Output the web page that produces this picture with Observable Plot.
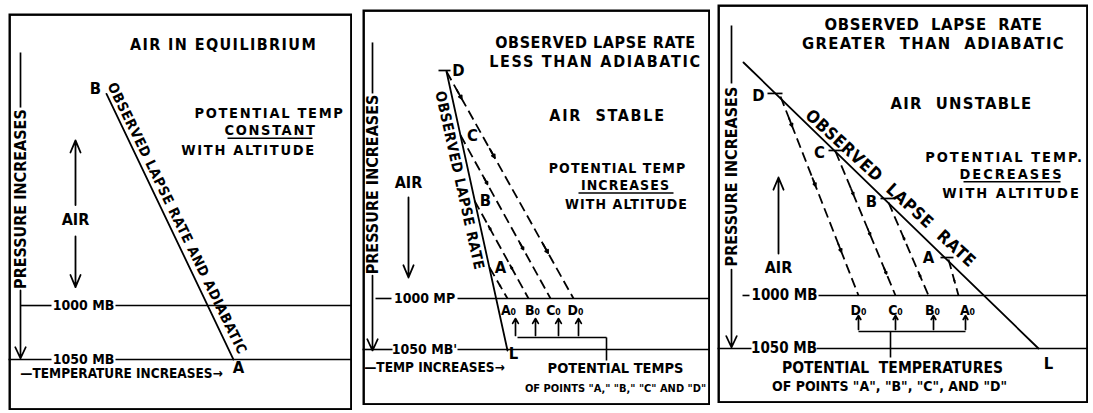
<!DOCTYPE html>
<html><head><meta charset="utf-8">
<script src="https://cdn.jsdelivr.net/npm/d3@7"></script>
<script src="https://cdn.jsdelivr.net/npm/@observablehq/plot@0.6"></script>
<style>
body{margin:0;background:#fff}
#chart{position:relative;width:1093px;height:413px;overflow:hidden;background:#fff}
#chart svg{position:absolute}
</style>
</head><body><div id="chart"></div>
<script>
// ================= DATA =================
// t = temperature (arbitrary units), p = pressure (mb)

// ---- Panel 1: air in equilibrium ----
const eqIsobars = [{p:1000, t1:12, t2:43}, {p:1000, t1:107, t2:344}, {p:1050, t1:0, t2:43}, {p:1050, t1:107, t2:344}];
const eqPressureLine = [{t:12, p1:765.7, p2:816.7}];
const eqPressureArrow = [{t:12, p1:986, p2:1049}];
const eqPressureLabel = [{label:"PRESSURE INCREASES", t:12, p:901.4}];
const eqIsobarLabels = [{label:"1000 MB", t:75, p:1000}, {label:"1050 MB", t:75, p:1050}];
const eqTempLabel = [{label:"—TEMPERATURE INCREASES→", t:113, p:1063}];
const eqLapse = [{t:98, p:804}, {t:225, p:1050}];
const eqLapseLabel = [{label:"OBSERVED LAPSE RATE AND ADIABATIC", t:168.5, p:919.4}];
const eqPointLabels = [{label:"B", t:87, p:799}, {label:"A", t:230, p:1058}];
const eqTicks = [];
const eqParcels = [];
const eqPotLabels = [];
const eqPotArrows = [];
const eqBracket = [];
const eqCaption1 = [];
const eqCaption2 = [];
const eqAirLabel = [{label:"AIR", t:67, p:921}];
const eqAirArrows = [{t:67, p1:907, p2:847}, {t:67, p1:936, p2:983}];
const eqTitles = [{label:"AIR IN EQUILIBRIUM", t:215, p:759}];
const eqNotes = [{label:"POTENTIAL TEMP", t:261, p:822}, {label:"CONSTANT", t:262, p:838}, {label:"WITH ALTITUDE", t:240, p:856.5}];
const eqUnderlines = [{t1:219, t2:304, p:845}];

// ---- Panel 2: air stable ----
const stIsobars = [{p:1000, t1:13, t2:29}, {p:1000, t1:95, t2:348}, {p:1050, t1:0, t2:30}, {p:1050, t1:95, t2:348}];
const stPressureLine = [{t:10, p1:749, p2:799}];
const stPressureArrow = [{t:10, p1:977.5, p2:1051}];
const stPressureLabel = [{label:"PRESSURE INCREASES", t:10, p:888.2}];
const stIsobarLabels = [{label:"1000 MP", t:62, p:1000}, {label:"1050 MB'", t:62, p:1050}];
const stTempLabel = [{label:"—TEMP INCREASES→", t:72, p:1067.6}];
const stLapse = [{t:84, p:777.5}, {t:145, p:1051}];
const stLapseLabel = [{label:"OBSERVED LAPSE RATE", t:97, p:884.3}];
const stPointLabels = [{label:"D", t:96, p:776.5}, {label:"C", t:110, p:840}, {label:"B", t:123, p:904}, {label:"A", t:138, p:969.6}, {label:"L", t:151, p:1054}];
const stTicks = [{t1:76, t2:88, p:776.5}];
const stParcels = [
  {t0:84, p0:777.5, t1:211, p1:1000},
  {t0:98, p0:840, t1:188, p1:1000},
  {t0:112, p0:904, t1:166, p1:1000},
  {t0:127, p0:969.6, t1:145, p1:1000}
];
const stPotLabels = [{label:"A₀", t:146, p:1011.8}, {label:"B₀", t:170, p:1011.8}, {label:"C₀", t:191, p:1011.8}, {label:"D₀", t:213, p:1011.8}];
const stPotArrows = [{t:153, p1:1036.3, p2:1019.6}, {t:173, p1:1036.3, p2:1019.6}, {t:196, p1:1036.3, p2:1019.6}, {t:216, p1:1036.3, p2:1019.6}];
const stBracket = [{t1:155, p1:1038.2, t2:244, p2:1038.2}, {t1:244, p1:1038.2, t2:244, p2:1060.8}];
const stCaption1 = [{label:"POTENTIAL TEMPS", t:253, p:1068.6}];
const stCaption2 = [{label:'OF POINTS "A," "B," "C" AND "D"', t:253, p:1088.2}];
const stAirLabel = [{label:"AIR", t:46, p:887}];
const stAirArrows = [{t:46, p1:901, p2:979.4}];
const stTitles = [{label:"OBSERVED LAPSE RATE", t:233, p:749}, {label:"LESS THAN ADIABATIC", t:233, p:767.6}, {label:"AIR  STABLE", t:245, p:820.6}];
const stNotes = [{label:"POTENTIAL TEMP", t:255, p:872.5}, {label:"INCREASES", t:263, p:889.2}, {label:"WITH ALTITUDE", t:264, p:908}];
const stUnderlines = [{t1:216, t2:311, p:896.5}];

// ---- Panel 3: air unstable ----
const unIsobars = [{p:1000, t1:25, t2:32}, {p:1000, t1:101, t2:371}, {p:1050, t1:0, t2:34}, {p:1050, t1:99, t2:371}];
const unPressureLine = [{t:14, p1:745.3, p2:800}];
const unPressureArrow = [{t:14, p1:975.5, p2:1049}];
const unPressureLabel = [{label:"PRESSURE INCREASES", t:14, p:887.8}];
const unIsobarLabels = [{label:"1000 MB", t:67, p:1000}, {label:"1050 MB", t:66.5, p:1050}];
const unTempLabel = [];
const unLapse = [{t:26, p:780.2}, {t:321, p:1050}];
const unLapseLabel = [{label:"OBSERVED  LAPSE  RATE", t:173, p:899}];
const unPointLabels = [{label:"D", t:41, p:812}, {label:"C", t:102, p:865}, {label:"B", t:154, p:912}, {label:"A", t:211, p:964}, {label:"L", t:331, p:1064.2}];
const unTicks = [{t1:50, t2:65, p:809.4}, {t1:111, t2:126, p:863.2}, {t1:163, t2:178, p:908.5}, {t1:223, t2:236, p:964.2}];
const unParcels = [
  {t0:63, p0:812.3, t1:141, p1:1000},
  {t0:118, p0:864.2, t1:178, p1:1000},
  {t0:171, p0:912.3, t1:211, p1:1000},
  {t0:231, p0:966, t1:241, p1:1000}
];
const unPotLabels = [{label:"D₀", t:141, p:1014.2}, {label:"C₀", t:178, p:1014.2}, {label:"B₀", t:215, p:1014.2}, {label:"A₀", t:250, p:1014.2}];
const unPotArrows = [{t:141, p1:1032, p2:1018.9}, {t:178, p1:1032, p2:1018.9}, {t:216, p1:1032, p2:1018.9}, {t:248, p1:1032, p2:1018.9}];
const unBracket = [{t1:141, p1:1034, t2:248, p2:1034}, {t1:173, p1:1034, t2:173, p2:1058.5}];
const unCaption1 = [{label:"POTENTIAL  TEMPERATURES", t:175, p:1068.9}];
const unCaption2 = [{label:'OF POINTS "A", "B", "C", AND "D"', t:172, p:1085.5}];
const unAirLabel = [{label:"AIR", t:61, p:973.6}];
const unAirArrows = [{t:61, p1:960.4, p2:888.7}];
const unTitles = [{label:"OBSERVED  LAPSE  RATE", t:216, p:744.3}, {label:"GREATER  THAN  ADIABATIC", t:216, p:762.3}, {label:"AIR  UNSTABLE", t:244, p:818.9}];
const unNotes = [{label:"POTENTIAL TEMP.", t:287, p:869.8}, {label:"DECREASES", t:294, p:885.4}, {label:"WITH ALTITUDE", t:294, p:903.3}];
const unUnderlines = [{t1:246, t2:343, p:892.7}];

// ================= LAYOUT / STYLE =================
const FONT = "'DejaVu Sans Condensed','DejaVu Sans',sans-serif";
const panels = [
  {box:{left:8, top:13, width:344, height:397}, tDomain:[0,344], pDomain:[729.6,1097.2],
   lapseRotate:64, lapseSize:14, titleSize:16, isoSize:14, cap1:15, cap2:14, noteSize:14.5, noteSpacing:1.7, titleSpacing:1.4,
   heads:[],
   d:{isobars:eqIsobars, axisLine:eqPressureLine, axisArrow:eqPressureArrow, axisLabel:eqPressureLabel, isoLabels:eqIsobarLabels, tempLabel:eqTempLabel,
      lapse:eqLapse, lapseLabel:eqLapseLabel, points:eqPointLabels, ticks:eqTicks, parcels:eqParcels, potLabels:eqPotLabels,
      potArrows:eqPotArrows, bracket:eqBracket, cap1:eqCaption1, cap2:eqCaption2, airLabel:eqAirLabel, airArrows:eqAirArrows,
      titles:eqTitles, notes:eqNotes, underlines:eqUnderlines}},
  {box:{left:362, top:9, width:348, height:396}, tDomain:[0,348], pDomain:[716.7,1104.9],
   lapseRotate:77.5, lapseSize:14.5, titleSize:16, isoSize:14, cap1:14.5, cap2:11, noteSize:14, noteSpacing:1.1, titleSpacing:1.7,
   heads:[[0.12,0.38,0.8],[0.3,0.7],[0.3,0.7],[0.6]],
   d:{isobars:stIsobars, axisLine:stPressureLine, axisArrow:stPressureArrow, axisLabel:stPressureLabel, isoLabels:stIsobarLabels, tempLabel:stTempLabel,
      lapse:stLapse, lapseLabel:stLapseLabel, points:stPointLabels, ticks:stTicks, parcels:stParcels, potLabels:stPotLabels,
      potArrows:stPotArrows, bracket:stBracket, cap1:stCaption1, cap2:stCaption2, airLabel:stAirLabel, airArrows:stAirArrows,
      titles:stTitles, notes:stNotes, underlines:stUnderlines}},
  {box:{left:717, top:4, width:371, height:399}, tDomain:[0,371], pDomain:[725.5,1101.9],
   lapseRotate:42.5, lapseSize:17, titleSize:16.5, isoSize:15, cap1:15.5, cap2:14, noteSize:14.5, noteSpacing:2, titleSpacing:1.3,
   heads:[[0.15,0.45,0.78],[0.3,0.58,0.85],[0.4,0.8],[0.6]],
   d:{isobars:unIsobars, axisLine:unPressureLine, axisArrow:unPressureArrow, axisLabel:unPressureLabel, isoLabels:unIsobarLabels, tempLabel:unTempLabel,
      lapse:unLapse, lapseLabel:unLapseLabel, points:unPointLabels, ticks:unTicks, parcels:unParcels, potLabels:unPotLabels,
      potArrows:unPotArrows, bracket:unBracket, cap1:unCaption1, cap2:unCaption2, airLabel:unAirLabel, airArrows:unAirArrows,
      titles:unTitles, notes:unNotes, underlines:unUnderlines}}
];

function arrowHeads(parcels, heads) {
  const out = [];
  parcels.forEach((d, i) => (heads[i] || []).forEach(f => {
    const g = f - 0.04;
    out.push({ta:d.t0+(d.t1-d.t0)*g, pa:d.p0+(d.p1-d.p0)*g, tb:d.t0+(d.t1-d.t0)*f, pb:d.p0+(d.p1-d.p0)*f});
  }));
  return out;
}

const txt = (data, o) => Plot.text(data, {x:"t", y:"p", text:"label", fill:"#000", fontFamily:FONT, fontWeight:"bold", ...o});
const halo = {stroke:"#fff", strokeWidth:3, paintOrder:"stroke", strokeLinejoin:"round"};

function spaceLetters(svg, labels, px) {
  const set = new Set(labels.map(d => d.label));
  d3.select(svg).selectAll("text").filter(function() { return set.has(this.textContent); })
    .attr("letter-spacing", px + "px").style("letter-spacing", px + "px");
}

const chart = document.getElementById("chart");
for (const P of panels) {
  const d = P.d;
  const svg = Plot.plot({
    width: P.box.width, height: P.box.height,
    margin: 0,
    x: {domain: P.tDomain, axis: null},
    y: {domain: P.pDomain, range: [0, P.box.height], axis: null},
    style: {background: "transparent", fontFamily: FONT},
    marks: [
      Plot.frame({stroke:"#000", strokeWidth:2.4, inset:1.2}),
      Plot.link(d.isobars, {x1:"t1", x2:"t2", y1:"p", y2:"p", stroke:"#000", strokeWidth:1.6}),
      Plot.link(d.axisLine, {x1:"t", x2:"t", y1:"p1", y2:"p2", stroke:"#000", strokeWidth:1.7}),
      Plot.arrow(d.axisArrow, {x1:"t", x2:"t", y1:"p1", y2:"p2", stroke:"#000", strokeWidth:1.7, headLength:11, headAngle:50}),
      Plot.line(d.lapse, {x:"t", y:"p", stroke:"#000", strokeWidth:1.8}),
      Plot.link(d.parcels, {x1:"t0", y1:"p0", x2:"t1", y2:"p1", stroke:"#000", strokeWidth:1.8, strokeDasharray:"10,5"}),
      Plot.arrow(arrowHeads(d.parcels, P.heads), {x1:"ta", y1:"pa", x2:"tb", y2:"pb", stroke:"#000", strokeWidth:1.8, headLength:7, headAngle:55}),
      Plot.link(d.ticks, {x1:"t1", x2:"t2", y1:"p", y2:"p", stroke:"#000", strokeWidth:1.7}),
      Plot.arrow(d.potArrows, {x1:"t", x2:"t", y1:"p1", y2:"p2", stroke:"#000", strokeWidth:1.7, headLength:7, headAngle:60}),
      Plot.link(d.bracket, {x1:"t1", y1:"p1", x2:"t2", y2:"p2", stroke:"#000", strokeWidth:1.6}),
      Plot.arrow(d.airArrows, {x1:"t", x2:"t", y1:"p1", y2:"p2", stroke:"#000", strokeWidth:1.8, headLength:11, headAngle:45}),
      Plot.link(d.underlines, {x1:"t1", x2:"t2", y1:"p", y2:"p", stroke:"#000", strokeWidth:1.5}),
      txt(d.axisLabel, {rotate:-90, fontSize:16}),
      txt(d.isoLabels, {fontSize:P.isoSize}),
      txt(d.tempLabel, {fontSize:13.5}),
      txt(d.lapseLabel, {rotate:P.lapseRotate, fontSize:P.lapseSize}),
      txt(d.points, {fontSize:16.5}),
      txt(d.potLabels, {fontSize:14}),
      txt(d.cap1, {fontSize:P.cap1, ...halo}),
      txt(d.cap2, {fontSize:P.cap2, ...halo}),
      txt(d.airLabel, {fontSize:16}),
      txt(d.titles, {fontSize:P.titleSize}),
      txt(d.notes, {fontSize:P.noteSize})
    ]
  });
  spaceLetters(svg, d.titles, P.titleSpacing);
  spaceLetters(svg, d.notes, P.noteSpacing);
  spaceLetters(svg, d.lapseLabel, 0.6);
  svg.style.left = P.box.left + "px";
  svg.style.top = P.box.top + "px";
  chart.appendChild(svg);
}
</script></body></html>
